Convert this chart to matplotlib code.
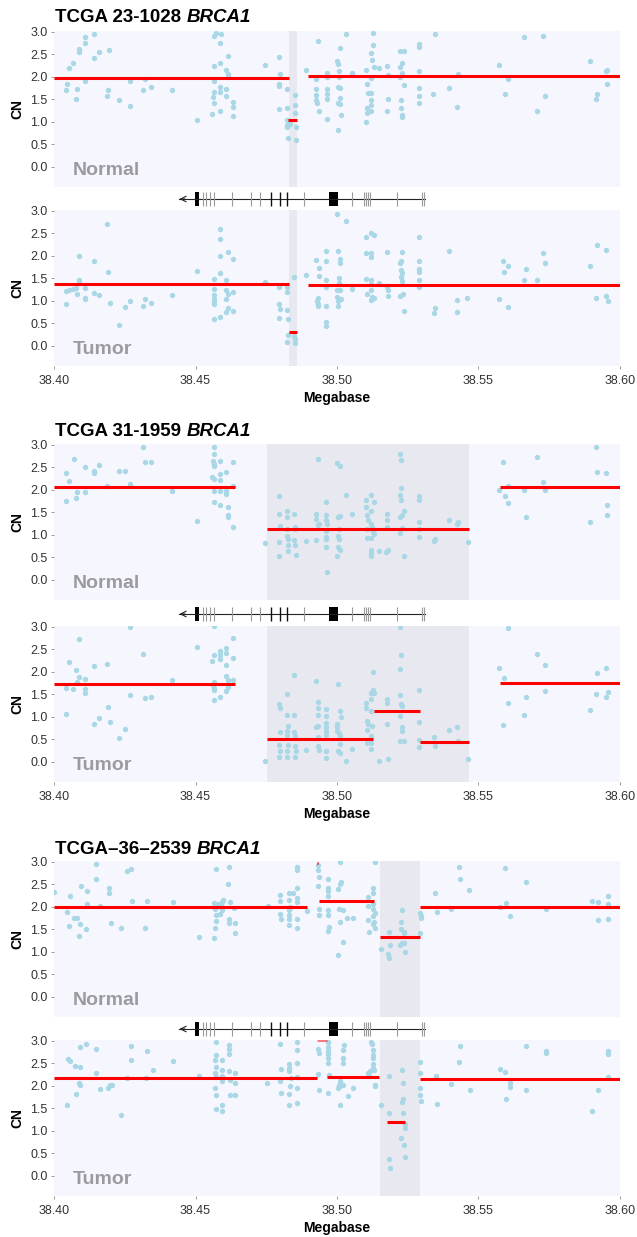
import numpy as np
import matplotlib
matplotlib.use("Agg")
import matplotlib.pyplot as plt
from matplotlib.patches import Rectangle

plt.rcParams['font.family'] = ['Liberation Sans', 'DejaVu Sans']

# ---------------- data ----------------
samples = ["TCGA 23-1028 ", "TCGA 31-1959 ", "TCGA\u201336\u20132539 "]
gene = "BRCA1"
xticks = [38.40, 38.45, 38.50, 38.55, 38.60]
yticks = [0.0, 0.5, 1.0, 1.5, 2.0, 2.5, 3.0]

# probe copy numbers (Mb, CN)
normal_1 = np.array([
    (38.4047, 1.84), (38.4044, 1.70), (38.4052, 2.19), (38.4066, 2.30), (38.4076, 1.50), (38.4080, 1.74),
    (38.4087, 2.56), (38.4087, 2.63), (38.4109, 2.89), (38.4109, 2.76), (38.4109, 1.91), (38.4142, 2.96),
    (38.4143, 2.42), (38.4158, 2.56), (38.4191, 1.70), (38.4188, 1.57), (38.4196, 2.59), (38.4231, 1.48),
    (38.4267, 1.91), (38.4270, 1.35), (38.4316, 1.70), (38.4321, 1.95), (38.4344, 1.78), (38.4416, 1.70),
    (38.4506, 1.05),
    (38.4566, 2.90), (38.4571, 2.98), (38.4589, 2.95), (38.4585, 2.76), (38.4566, 2.25), (38.4585, 2.30),
    (38.4566, 1.91), (38.4564, 1.67), (38.4561, 1.56), (38.4564, 1.41), (38.4559, 1.18), (38.4587, 1.24),
    (38.4587, 1.78), (38.4587, 1.67), (38.4609, 2.15), (38.4614, 2.06), (38.4609, 1.74), (38.4609, 1.57),
    (38.4615, 2.47), (38.4632, 1.44), (38.4632, 1.33), (38.4632, 1.13), (38.4615, 1.99),
    (38.4747, 2.27), (38.4794, 2.44), (38.4797, 2.07), (38.4796, 1.85), (38.4794, 1.79), (38.4794, 1.28),
    (38.4825, 1.72), (38.4825, 1.30), (38.4825, 0.89), (38.4823, 0.93), (38.4826, 0.64), (38.4825, 1.04),
    (38.4850, 1.59), (38.4853, 1.37), (38.4852, 1.20), (38.4855, 0.89), (38.4855, 0.59), (38.4835, 0.96),
    (38.4892, 2.15), (38.4932, 2.80), (38.4926, 1.96), (38.4926, 1.72), (38.4925, 1.59), (38.4926, 1.48),
    (38.4929, 1.41), (38.4938, 1.24), (38.4965, 2.09), (38.4965, 2.00), (38.4965, 1.74), (38.4965, 1.61),
    (38.4965, 1.50), (38.4965, 1.07),
    (38.5001, 2.35), (38.5005, 2.28), (38.5011, 2.64), (38.5008, 2.13), (38.5004, 1.78), (38.5010, 1.52),
    (38.5004, 1.41), (38.5015, 1.15), (38.5005, 0.81), (38.5008, 2.00), (38.5011, 1.76), (38.5012, 1.39),
    (38.5033, 2.95), (38.5053, 2.09),
    (38.5126, 2.98), (38.5127, 2.70), (38.5119, 2.52), (38.5123, 2.37), (38.5130, 2.22), (38.5147, 2.19),
    (38.5119, 1.98), (38.5104, 2.16), (38.5106, 1.84), (38.5108, 1.64), (38.5119, 1.64), (38.5119, 1.48),
    (38.5120, 1.37), (38.5119, 1.24), (38.5106, 1.30), (38.5106, 1.19), (38.5104, 1.00),
    (38.5177, 2.24), (38.5180, 2.04), (38.5180, 1.50), (38.5177, 1.24),
    (38.5223, 2.57), (38.5235, 2.58), (38.5230, 2.31), (38.5223, 2.21), (38.5230, 2.09), (38.5223, 1.99),
    (38.5235, 1.81), (38.5227, 1.48), (38.5226, 1.30), (38.5230, 1.16), (38.5230, 1.11),
    (38.5288, 2.73), (38.5291, 2.67), (38.5288, 2.13), (38.5291, 1.76), (38.5291, 1.58), (38.5291, 1.42),
    (38.5345, 2.96), (38.5339, 1.61), (38.5397, 1.76), (38.5423, 1.33), (38.5428, 2.07),
    (38.5572, 2.27), (38.5592, 1.61), (38.5603, 1.96), (38.5661, 2.89), (38.5707, 1.24), (38.5729, 2.90),
    (38.5734, 1.57), (38.5893, 2.35), (38.5919, 1.61), (38.5916, 1.50), (38.5950, 2.13), (38.5953, 2.16),
    (38.5955, 1.84),
])

tumor_1 = np.array([
    (38.4043, 0.93), (38.4043, 1.22), (38.4054, 1.25), (38.4066, 1.27), (38.4076, 1.29), (38.4087, 1.47),
    (38.4087, 1.40), (38.4087, 1.99), (38.4083, 1.16), (38.4109, 1.29), (38.4109, 1.07), (38.4109, 1.03),
    (38.4142, 1.89), (38.4142, 1.18), (38.4158, 1.14), (38.4186, 2.70), (38.4191, 1.64), (38.4198, 0.96),
    (38.4229, 0.46), (38.4251, 0.87), (38.4267, 1.00), (38.4316, 0.89), (38.4320, 1.05), (38.4344, 0.96),
    (38.4416, 1.13), (38.4506, 1.67),
    (38.4566, 1.48), (38.4566, 1.27), (38.4564, 1.12), (38.4564, 1.05), (38.4564, 1.00), (38.4564, 0.94),
    (38.4566, 0.59), (38.4587, 2.59), (38.4587, 2.38), (38.4587, 1.99), (38.4587, 1.61), (38.4587, 0.64),
    (38.4614, 2.08), (38.4609, 1.46), (38.4609, 1.24), (38.4614, 1.15), (38.4609, 1.03), (38.4614, 0.83),
    (38.4609, 0.76), (38.4632, 1.92), (38.4632, 1.20), (38.4632, 0.78),
    (38.4747, 1.41), (38.4794, 1.31), (38.4794, 0.93), (38.4797, 0.81), (38.4796, 0.61), (38.4823, 1.30),
    (38.4825, 1.19), (38.4825, 0.79), (38.4826, 0.59), (38.4826, 0.24), (38.4825, 0.08), (38.4848, 0.22),
    (38.4852, 0.16), (38.4853, 0.07), (38.4848, 1.52),
    (38.4892, 1.58), (38.4926, 1.90), (38.4932, 1.07), (38.4931, 1.00), (38.4932, 0.94), (38.4934, 0.88),
    (38.4938, 1.73), (38.4936, 1.55), (38.4962, 2.11), (38.4962, 1.88), (38.4962, 1.46), (38.4962, 1.31),
    (38.4962, 0.88), (38.4962, 0.53), (38.4962, 0.44),
    (38.5001, 2.93), (38.5005, 2.11), (38.5011, 1.94), (38.5012, 1.84), (38.5008, 1.50), (38.5008, 1.39),
    (38.5001, 1.24), (38.5001, 1.09), (38.5005, 1.00), (38.5004, 0.88), (38.5012, 1.25), (38.5015, 1.03),
    (38.5033, 2.78), (38.5053, 1.26),
    (38.5104, 2.42), (38.5104, 2.07), (38.5104, 1.49), (38.5106, 1.15), (38.5119, 2.50), (38.5130, 2.47),
    (38.5119, 2.07), (38.5120, 1.98), (38.5119, 1.47), (38.5119, 1.37), (38.5120, 1.25), (38.5123, 1.09),
    (38.5119, 1.01), (38.5130, 1.07), (38.5147, 1.39),
    (38.5177, 2.09), (38.5177, 1.30), (38.5180, 1.25), (38.5180, 1.10), (38.5223, 1.84), (38.5227, 1.89),
    (38.5230, 2.08), (38.5226, 1.68), (38.5230, 1.62), (38.5227, 1.52), (38.5230, 1.44), (38.5223, 1.10),
    (38.5233, 1.15), (38.5235, 0.78),
    (38.5288, 2.42), (38.5291, 1.89), (38.5288, 1.70), (38.5291, 1.64), (38.5291, 1.46), (38.5291, 1.30),
    (38.5342, 0.73), (38.5348, 0.85), (38.5397, 2.10), (38.5424, 1.01), (38.5424, 0.75), (38.5460, 1.07),
    (38.5572, 1.04), (38.5586, 1.89), (38.5589, 1.65), (38.5603, 0.87), (38.5606, 1.78), (38.5661, 1.47),
    (38.5669, 1.70), (38.5707, 1.47), (38.5729, 2.07), (38.5734, 1.83),
    (38.5893, 1.77), (38.5916, 1.07), (38.5919, 2.24), (38.5950, 2.14), (38.5950, 1.10), (38.5956, 0.99),
])

normal_2 = np.array([
    (38.4043, 1.75), (38.4052, 2.20), (38.4043, 2.37), (38.4069, 2.68), (38.4076, 1.81), (38.4080, 1.95),
    (38.4109, 1.95), (38.4109, 2.51), (38.4142, 2.37), (38.4143, 2.43), (38.4158, 2.56), (38.4186, 2.08),
    (38.4231, 2.43), (38.4251, 2.41), (38.4267, 2.13), (38.4316, 2.95), (38.4321, 2.62), (38.4344, 2.61),
    (38.4416, 1.98), (38.4506, 1.30),
    (38.4566, 2.95), (38.4566, 2.80), (38.4561, 2.65), (38.4564, 2.57), (38.4566, 2.52), (38.4559, 2.28),
    (38.4566, 2.24), (38.4566, 1.98), (38.4566, 1.73), (38.4587, 2.65), (38.4587, 2.36), (38.4587, 2.23),
    (38.4587, 1.98), (38.4587, 1.66), (38.4609, 2.39), (38.4609, 1.97), (38.4609, 1.91), (38.4614, 1.61),
    (38.4614, 1.45), (38.4614, 1.40), (38.4632, 2.63), (38.4632, 2.09), (38.4632, 1.18),
    (38.4747, 0.81), (38.4794, 1.86), (38.4794, 1.47), (38.4797, 1.19), (38.4794, 0.84), (38.4796, 0.53),
    (38.4825, 1.53), (38.4825, 1.40), (38.4825, 1.13), (38.4825, 0.97), (38.4826, 0.90), (38.4826, 0.77),
    (38.4826, 0.63), (38.4848, 1.47), (38.4852, 1.18), (38.4853, 1.12), (38.4848, 0.88), (38.4852, 0.77),
    (38.4855, 0.55), (38.4892, 0.86),
    (38.4926, 1.47), (38.4926, 1.36), (38.4932, 2.68), (38.4932, 1.21), (38.4938, 1.24), (38.4926, 0.88),
    (38.4962, 1.72), (38.4962, 1.43), (38.4962, 1.34), (38.4965, 1.23), (38.4962, 1.08), (38.4962, 0.96),
    (38.4962, 0.90), (38.4962, 0.74), (38.4965, 0.18),
    (38.5001, 0.53), (38.5001, 2.59), (38.5012, 2.54), (38.5005, 1.40), (38.5011, 1.41), (38.5008, 1.13),
    (38.5004, 0.97), (38.5008, 0.90), (38.5004, 0.74), (38.5011, 0.66), (38.5033, 1.88), (38.5053, 1.47),
    (38.5104, 1.77), (38.5104, 1.62), (38.5106, 1.44), (38.5108, 1.34), (38.5106, 1.12), (38.5106, 0.94),
    (38.5119, 1.89), (38.5119, 1.54), (38.5119, 1.23), (38.5119, 0.94), (38.5120, 0.66), (38.5119, 0.59),
    (38.5119, 0.53), (38.5130, 1.73), (38.5130, 1.02), (38.5147, 0.64), (38.5123, 1.18), (38.5127, 1.06),
    (38.5177, 1.47), (38.5177, 1.33), (38.5177, 1.18), (38.5180, 0.66), (38.5173, 0.62), (38.5223, 2.80),
    (38.5227, 2.67), (38.5226, 2.04), (38.5223, 1.89), (38.5227, 1.78), (38.5235, 1.53), (38.5230, 1.45),
    (38.5223, 1.40), (38.5230, 1.16), (38.5223, 1.05), (38.5235, 0.52),
    (38.5291, 1.86), (38.5291, 1.77), (38.5291, 1.28), (38.5291, 1.12), (38.5291, 0.96), (38.5342, 0.86),
    (38.5348, 0.91), (38.5397, 1.33), (38.5424, 1.25), (38.5428, 1.28), (38.5463, 0.84),
    (38.5572, 2.00), (38.5586, 2.61), (38.5592, 1.86), (38.5603, 1.71), (38.5606, 2.08), (38.5661, 2.00),
    (38.5669, 1.40), (38.5707, 2.72), (38.5729, 2.17), (38.5734, 1.99), (38.5893, 1.29), (38.5916, 2.96),
    (38.5919, 2.39), (38.5950, 2.37), (38.5955, 1.66), (38.5953, 1.45),
])

tumor_2 = np.array([
    (38.4043, 1.65), (38.4043, 1.07), (38.4052, 2.21), (38.4066, 1.61), (38.4076, 2.04), (38.4083, 1.78),
    (38.4087, 1.88), (38.4087, 2.72), (38.4109, 1.83), (38.4109, 1.61), (38.4109, 1.54), (38.4142, 2.13),
    (38.4142, 0.84), (38.4158, 0.97), (38.4186, 2.17), (38.4191, 1.22), (38.4198, 0.88), (38.4229, 0.53),
    (38.4251, 0.73), (38.4267, 3.00), (38.4267, 1.49), (38.4316, 2.39), (38.4320, 1.41), (38.4344, 1.43),
    (38.4416, 1.82), (38.4506, 2.56),
    (38.4566, 3.02), (38.4559, 2.25), (38.4566, 2.37), (38.4564, 1.78), (38.4561, 1.71), (38.4564, 1.65),
    (38.4564, 1.59), (38.4566, 1.38), (38.4587, 2.46), (38.4587, 2.37), (38.4587, 2.28), (38.4587, 1.44),
    (38.4609, 2.54), (38.4609, 2.42), (38.4609, 2.15), (38.4609, 1.91), (38.4614, 1.82), (38.4614, 1.66),
    (38.4609, 1.58), (38.4632, 2.76), (38.4632, 2.30), (38.4632, 1.82),
    (38.4747, 0.01), (38.4794, 1.29), (38.4797, 1.19), (38.4823, 1.51), (38.4825, 1.05), (38.4826, 0.79),
    (38.4825, 0.68), (38.4825, 0.60), (38.4826, 0.38), (38.4823, 0.24), (38.4825, 0.11), (38.4848, 1.93),
    (38.4848, 0.66), (38.4852, 0.58), (38.4853, 0.36), (38.4855, 0.24), (38.4853, 0.11), (38.4848, 1.05),
    (38.4797, 0.66), (38.4794, 0.38), (38.4797, 0.24), (38.4794, 0.11), (38.4892, 0.26), (38.4926, 1.80),
    (38.4926, 0.77), (38.4932, 1.32), (38.4932, 1.19), (38.4932, 1.05), (38.4934, 0.79), (38.4932, 0.55),
    (38.4932, 0.35), (38.4938, 0.26), (38.4962, 1.17), (38.4962, 1.01), (38.4962, 0.86), (38.4962, 0.77),
    (38.4962, 0.68), (38.4962, 0.60), (38.4962, 0.24), (38.4962, 0.09),
    (38.5001, 0.84), (38.5001, 0.77), (38.5005, 1.72), (38.5001, 0.69), (38.5008, 0.63), (38.5011, 0.57),
    (38.5004, 0.24), (38.5011, 0.20), (38.5011, 0.40), (38.5015, 0.99), (38.5012, 1.14), (38.5033, 0.01),
    (38.5053, 0.29),
    (38.5104, 1.30), (38.5104, 1.19), (38.5106, 0.90), (38.5108, 0.83), (38.5106, 0.70), (38.5106, 0.41),
    (38.5119, 1.54), (38.5119, 1.39), (38.5119, 1.12), (38.5119, 0.58), (38.5120, 0.29), (38.5127, 1.60),
    (38.5127, 2.00), (38.5130, 1.53), (38.5123, 0.79), (38.5119, 0.42), (38.5147, 0.01),
    (38.5177, 1.39), (38.5177, 1.30), (38.5177, 0.83), (38.5180, 0.07), (38.5223, 3.00), (38.5226, 2.37),
    (38.5223, 2.06), (38.5223, 1.49), (38.5227, 1.29), (38.5230, 1.25), (38.5223, 1.01), (38.5230, 0.77),
    (38.5230, 0.68), (38.5223, 0.46), (38.5235, 0.46),
    (38.5288, 1.60), (38.5288, 0.88), (38.5291, 0.48), (38.5291, 0.32), (38.5342, 0.55), (38.5348, 0.36),
    (38.5397, 0.70), (38.5424, 0.77), (38.5428, 0.46), (38.5463, 0.07),
    (38.5572, 2.08), (38.5589, 1.86), (38.5586, 0.81), (38.5603, 1.30), (38.5606, 2.98), (38.5661, 1.04),
    (38.5669, 1.43), (38.5707, 2.39), (38.5734, 1.58), (38.5734, 2.15), (38.5893, 1.16), (38.5916, 1.50),
    (38.5919, 1.98), (38.5950, 2.08), (38.5956, 1.55), (38.5950, 1.44),
])

normal_3 = np.array([
    (38.4001, 2.33), (38.4047, 1.89), (38.4052, 1.58), (38.4057, 2.24), (38.4069, 1.76), (38.4080, 1.76),
    (38.4087, 1.35), (38.4093, 1.61), (38.4095, 2.47), (38.4112, 1.50), (38.4115, 2.35), (38.4115, 2.07),
    (38.4149, 2.96), (38.4148, 2.63), (38.4163, 2.01), (38.4195, 2.30), (38.4195, 2.43), (38.4201, 1.65),
    (38.4235, 1.52), (38.4258, 2.80), (38.4271, 2.85), (38.4274, 2.13), (38.4321, 1.53), (38.4327, 2.13),
    (38.4422, 2.10), (38.4511, 1.32),
    (38.4574, 2.85), (38.4566, 2.09), (38.4568, 1.96), (38.4571, 1.81), (38.4571, 1.69), (38.4568, 1.53),
    (38.4566, 1.30), (38.4592, 2.11), (38.4592, 2.00), (38.4592, 1.93), (38.4585, 1.85), (38.4578, 2.06),
    (38.4618, 2.89), (38.4615, 2.50), (38.4621, 2.10), (38.4618, 1.72), (38.4618, 1.65), (38.4637, 1.98),
    (38.4638, 1.65), (38.4640, 1.41), (38.4597, 2.16),
    (38.4756, 2.01), (38.4800, 2.26), (38.4800, 2.13), (38.4800, 1.85), (38.4803, 1.72), (38.4829, 2.30),
    (38.4832, 2.15), (38.4833, 2.00), (38.4832, 1.94), (38.4832, 1.81), (38.4832, 1.72), (38.4832, 1.59),
    (38.4843, 2.30), (38.4858, 2.89), (38.4858, 2.83), (38.4858, 2.43), (38.4858, 2.19), (38.4858, 2.11),
    (38.4860, 1.72), (38.4860, 1.54), (38.4895, 1.90),
    (38.4932, 2.93), (38.4932, 2.81), (38.4938, 2.67), (38.4932, 2.47), (38.4938, 1.95), (38.4938, 1.81),
    (38.4969, 2.61), (38.4969, 2.42), (38.4967, 2.36), (38.4969, 2.24), (38.4967, 1.93), (38.4969, 1.81),
    (38.4972, 1.56), (38.4969, 1.46), (38.5012, 2.99), (38.5015, 2.56), (38.5011, 2.50), (38.5005, 2.39),
    (38.5008, 1.95), (38.5020, 1.93), (38.5012, 1.67), (38.5022, 1.22), (38.5005, 0.93), (38.5034, 1.76),
    (38.5058, 1.76),
    (38.5108, 2.22), (38.5108, 2.01), (38.5110, 1.70), (38.5113, 1.43), (38.5127, 2.43), (38.5127, 2.31),
    (38.5127, 2.06), (38.5126, 1.96), (38.5127, 1.79), (38.5130, 1.67), (38.5133, 1.87), (38.5127, 1.61),
    (38.5134, 1.54), (38.5133, 3.00), (38.5154, 1.07), (38.5180, 0.96), (38.5185, 1.44), (38.5187, 1.16),
    (38.5185, 0.87), (38.5230, 1.94), (38.5227, 1.67), (38.5226, 1.50), (38.5235, 1.44), (38.5238, 1.42),
    (38.5230, 1.19), (38.5235, 1.20), (38.5242, 0.99), (38.5223, 1.15),
    (38.5295, 1.87), (38.5298, 1.79), (38.5296, 1.76), (38.5295, 1.41), (38.5352, 1.89), (38.5348, 2.31),
    (38.5403, 1.95), (38.5431, 2.89), (38.5435, 2.61), (38.5468, 2.37), (38.5577, 2.00), (38.5592, 2.87),
    (38.5596, 2.09), (38.5610, 1.80), (38.5669, 2.56), (38.5738, 1.95), (38.5900, 2.13), (38.5922, 2.10),
    (38.5924, 1.70), (38.5956, 2.24), (38.5957, 2.06), (38.5959, 1.72),
])

tumor_3 = np.array([
    (38.4047, 1.58), (38.4050, 2.59), (38.4057, 2.56), (38.4073, 2.44), (38.4079, 1.82), (38.4087, 2.07),
    (38.4093, 2.02), (38.4093, 2.43), (38.4093, 2.87), (38.4112, 2.94), (38.4149, 2.83), (38.4148, 2.29),
    (38.4163, 1.93), (38.4191, 1.95), (38.4198, 2.01), (38.4204, 2.02), (38.4235, 1.35), (38.4257, 2.18),
    (38.4272, 2.89), (38.4272, 2.57), (38.4324, 2.18), (38.4327, 2.77), (38.4350, 2.35), (38.4422, 2.56),
    (38.4513, 2.22),
    (38.4571, 2.98), (38.4571, 2.68), (38.4568, 2.57), (38.4571, 2.43), (38.4568, 2.29), (38.4571, 2.19),
    (38.4568, 1.95), (38.4574, 1.80), (38.4574, 1.49), (38.4592, 2.57), (38.4592, 2.35), (38.4592, 2.23),
    (38.4592, 2.10), (38.4592, 1.58), (38.4592, 1.45), (38.4618, 2.90), (38.4618, 2.81), (38.4618, 2.70),
    (38.4618, 2.32), (38.4621, 2.12), (38.4621, 1.80), (38.4640, 2.29), (38.4640, 2.06), (38.4640, 1.80),
    (38.4754, 2.06), (38.4800, 2.94), (38.4803, 2.37), (38.4800, 2.11), (38.4803, 1.85), (38.4829, 2.48),
    (38.4832, 2.40), (38.4832, 2.32), (38.4833, 2.00), (38.4829, 1.82), (38.4832, 1.57), (38.4836, 2.17),
    (38.4858, 2.79), (38.4858, 2.51), (38.4858, 2.19), (38.4860, 1.95), (38.4860, 1.62), (38.4858, 2.98),
    (38.4932, 2.83), (38.4938, 2.74), (38.4932, 2.26), (38.4938, 1.91), (38.4969, 2.98), (38.4969, 2.87),
    (38.4969, 2.78), (38.4969, 2.70), (38.4969, 2.62), (38.4969, 2.51), (38.4972, 2.24), (38.4969, 1.85),
    (38.5012, 2.10), (38.5008, 2.02), (38.5012, 1.99), (38.5005, 1.95), (38.5020, 2.02), (38.5020, 2.79),
    (38.5025, 2.90), (38.5020, 2.62), (38.5022, 2.50), (38.5011, 1.58), (38.5038, 1.78), (38.5058, 1.95),
    (38.5108, 2.29), (38.5116, 2.32), (38.5113, 2.21), (38.5119, 2.98), (38.5123, 2.93), (38.5127, 2.79),
    (38.5127, 2.68), (38.5127, 2.62), (38.5127, 2.48), (38.5127, 2.39), (38.5130, 2.35), (38.5133, 2.02),
    (38.5133, 1.99), (38.5154, 1.58), (38.5183, 2.21), (38.5185, 1.40), (38.5185, 0.37), (38.5187, 0.17),
    (38.5230, 2.35), (38.5233, 2.07), (38.5233, 1.71), (38.5230, 1.64), (38.5233, 1.40), (38.5227, 0.83),
    (38.5235, 0.68), (38.5240, 1.16), (38.5242, 1.06), (38.5242, 0.42),
    (38.5295, 2.54), (38.5295, 2.28), (38.5295, 1.95), (38.5295, 1.80), (38.5298, 1.67), (38.5349, 2.22),
    (38.5355, 1.60), (38.5403, 2.04), (38.5431, 2.52), (38.5434, 2.89), (38.5470, 1.90), (38.5577, 2.37),
    (38.5592, 2.30), (38.5596, 1.71), (38.5610, 2.06), (38.5613, 1.97), (38.5669, 2.88), (38.5669, 1.90),
    (38.5738, 2.74), (38.5738, 2.78), (38.5900, 1.43), (38.5922, 1.91), (38.5956, 2.71), (38.5957, 2.78),
    (38.5959, 2.19),
])

# segmented copy number (start Mb, end Mb, CN)
seg_normal_1 = [(38.40, 38.4829, 1.98), (38.4826, 38.4859, 1.05), (38.4896, 38.60, 2.015)]
seg_tumor_1 = [(38.40, 38.4829, 1.37), (38.4829, 38.4859, 0.30), (38.4896, 38.60, 1.35)]
seg_normal_2 = [(38.40, 38.4638, 2.06), (38.4753, 38.5468, 1.13), (38.5577, 38.60, 2.07)]
seg_tumor_2 = [(38.40, 38.4638, 1.74), (38.4753, 38.5127, 0.515), (38.5131, 38.5292, 1.135),
               (38.5295, 38.5468, 0.44), (38.5577, 38.60, 1.76)]
seg_normal_3 = [(38.40, 38.4895, 1.99), (38.4929, 38.4932, 2.97), (38.4938, 38.5131, 2.125),
                (38.5151, 38.5292, 1.32), (38.5295, 38.60, 2.0)]
seg_tumor_3 = [(38.40, 38.4929, 2.18), (38.4929, 38.4966, 3.03), (38.4966, 38.5148, 2.19),
               (38.5177, 38.5240, 1.185), (38.5295, 38.60, 2.16)]

# deleted region highlighted per sample
regions = [(38.4829, 38.4859), (38.4753, 38.5468), (38.5151, 38.5292)]

# BRCA1 gene model (minus strand)
gene_span = (38.4443, 38.5311)
exon_boxes = [(38.4499, 38.4513), (38.4972, 38.5004)]
exons_light = [38.4528, 38.4538, 38.4551, 38.4566, 38.4628, 38.4695, 38.4728, 38.4882,
               38.5052, 38.5095, 38.5101, 38.5108, 38.5118, 38.5213, 38.5302, 38.5309]
exons_dark = [38.4767, 38.4800, 38.4823]

# ---------------- drawing ----------------
W, H = 637, 1237
fig = plt.figure(figsize=(W / 100, H / 100), dpi=100)

bg = '#f6f7fe'
band = '#e8e9f0'
pt_col = '#a9d7e5'
left, width, ph = 54, 566, 156

def px_axes(top, h):
    return fig.add_axes([left / W, 1 - (top + h) / H, width / W, h / H])

def cn_panel(top, pts, segs, region, label, bottom):
    ax = px_axes(top, ph)
    ax.set_facecolor(bg)
    ax.axvspan(region[0], region[1], color=band, lw=0, zorder=0)
    ax.scatter(pts[:, 0], pts[:, 1], s=15, color=pt_col, lw=0, zorder=2)
    for s, e, v in segs:
        a = 0.5 if v > 3.0 else 1
        ax.plot([s, e], [v, v], color='#ff0000', lw=2.2, alpha=a, zorder=3, solid_capstyle='butt')
    ax.set_xlim(38.40, 38.60)
    ax.set_ylim(-0.45, 3.02)
    ax.set_yticks(yticks)
    ax.set_yticklabels(['%.1f' % v for v in yticks])
    for sp in ax.spines.values():
        sp.set_visible(False)
    ax.tick_params(axis='both', length=2.2, width=0.6, color='#8a8a8a', labelsize=9,
                   labelcolor='#333333', pad=2.5)
    ax.set_ylabel('CN', fontsize=10, fontweight='bold', labelpad=4)
    ax.text(38.4067, -0.08, label, fontsize=14, fontweight='bold', color='#9b9b9f', va='center')
    if bottom:
        ax.set_xticks(xticks)
        ax.set_xticklabels(['%.2f' % v for v in xticks])
        ax.tick_params(axis='x', pad=4)
        ax.set_xlabel('Megabase', fontsize=10, fontweight='bold', labelpad=3)
    else:
        ax.set_xticks([])
    return ax

def gene_track(center):
    ax = px_axes(center - 9, 18)
    ax.set_xlim(38.40, 38.60)
    ax.set_ylim(-1, 1)
    ax.axis('off')
    ax.plot(gene_span, [0, 0], color='#222222', lw=0.8)
    ax.annotate('', xy=(gene_span[0], 0), xytext=(gene_span[0] + 0.002, 0),
                arrowprops=dict(arrowstyle='->', color='#222222', lw=0.8, shrinkA=0, shrinkB=0))
    ax.vlines(exons_light, -0.8, 0.8, color='#9a9a9a', lw=0.8)
    ax.vlines(exons_dark, -0.8, 0.8, color='#111111', lw=1.0)
    for s, e in exon_boxes:
        ax.add_patch(Rectangle((s, -0.8), e - s, 1.6, color='black', lw=0))

def title(y_px, name):
    t = fig.text((left + 1) / W, 1 - y_px / H, name, fontsize=13.5, fontweight='bold', va='center')
    fig.canvas.draw()
    bb = t.get_window_extent()
    fig.text(bb.x1 / W, 1 - y_px / H, gene, fontsize=13.5, fontweight='bold',
             style='italic', va='center')

pairs = [
    (31, 210, 199, 18, normal_1, tumor_1, seg_normal_1, seg_tumor_1),
    (444, 626, 614, 432, normal_2, tumor_2, seg_normal_2, seg_tumor_2),
    (861, 1040, 1029, 849, normal_3, tumor_3, seg_normal_3, seg_tumor_3),
]
for i, (top_n, top_t, gc, ty, pn, pt, sn, st) in enumerate(pairs):
    cn_panel(top_n, pn, sn, regions[i], 'Normal', False)
    cn_panel(top_t, pt, st, regions[i], 'Tumor', True)
    gene_track(gc)
    title(ty, samples[i])

fig.savefig('out.png', dpi=100)
